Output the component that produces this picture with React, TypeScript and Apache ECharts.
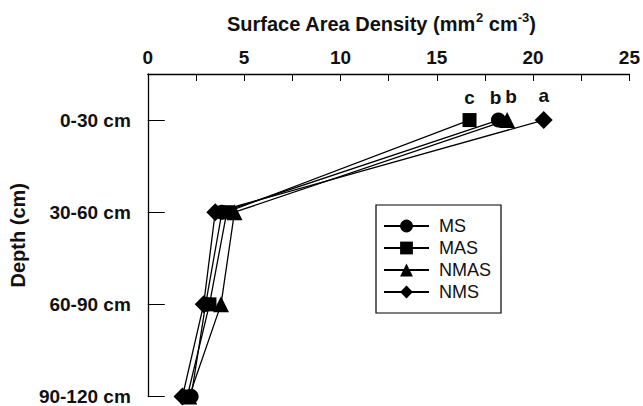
import React, { useEffect, useRef } from "react";
import * as echarts from "echarts";

const categories = ["0-30 cm", "30-60 cm", "60-90 cm", "90-120 cm"];
const seriesNames = ["MS", "MAS", "NMAS", "NMS"];
const msValues = [18.2, 3.85, 3.0, 2.25];
const masValues = [16.7, 4.1, 3.2, 2.05];
const nmasValues = [18.65, 4.5, 3.8, 2.15];
const nmsValues = [20.55, 3.5, 2.9, 1.8];
const topLetters = ["b", "c", "b", "a"];
const xTicks = [0, 5, 10, 15, 20, 25];

const FONT = "Liberation Sans, Arial, Helvetica, sans-serif";

export default function App() {
  const ref = useRef<HTMLDivElement>(null);
  useEffect(() => {
    if (!ref.current) return;
    const chart = echarts.init(ref.current, undefined, { renderer: "svg" });
    const allValues = [msValues, masValues, nmasValues, nmsValues];
    const symbols = ["circle", "rect", "triangle", "diamond"];
    const sizes = [15, 14, 16, 18];
    const labelOffsets = [[-3, 0], [0, 0], [4, 0], [0, 0]];
    const series = seriesNames.map((name, si) => ({
      name,
      type: "line",
      symbol: symbols[si],
      symbolSize: sizes[si],
      itemStyle: { color: "#000" },
      lineStyle: { color: "#000", width: 1.3 },
      data: allValues[si].map((v, i) => ({
        value: [v, i],
        label:
          i === 0
            ? {
                show: true,
                formatter: topLetters[si],
                position: "top",
                distance: 6,
                offset: labelOffsets[si],
                color: "#111",
                fontSize: 19,
                fontWeight: "bold",
                fontFamily: FONT,
              }
            : { show: false },
      })),
    }));
    chart.setOption({
      animation: false,
      backgroundColor: "#fff",
      title: {
        text: "{a|Surface Area Density (mm}{s|2}{a| cm}{s|-3}{a|)}",
        left: 222,
        top: 6,
        textStyle: {
          rich: {
            a: { fontSize: 20, fontWeight: "bold", fontFamily: FONT, color: "#111", lineHeight: 26 },
            s: { fontSize: 13, fontWeight: "bold", fontFamily: FONT, color: "#111", verticalAlign: "top", lineHeight: 15 },
          },
        },
      },
      legend: {
        orient: "vertical",
        left: 376,
        top: 205,
        padding: [12, 10, 12, 7],
        itemGap: 4,
        itemWidth: 45,
        itemHeight: 16,
        borderColor: "#000",
        borderWidth: 1.2,
        data: seriesNames,
        textStyle: { fontSize: 18, lineHeight: 18, color: "#111", fontFamily: FONT, padding: [0, 0, 0, 5] },
      },
      grid: { left: 145, right: 10, top: 74, bottom: 8, containLabel: false },
      xAxis: {
        type: "value",
        position: "top",
        min: 0,
        max: 25,
        interval: 2.5,
        splitLine: { show: false },
        axisLine: { show: true, onZero: false, lineStyle: { color: "#000", width: 1.3 } },
        axisTick: { show: true, inside: true, length: 7, lineStyle: { color: "#000" } },
        axisLabel: {
          color: "#111",
          fontSize: 19,
          fontWeight: "bold",
          fontFamily: FONT,
          margin: 7,
          formatter: (v: number) => (xTicks.includes(v) ? String(v) : ""),
        },
      },
      yAxis: {
        type: "value",
        inverse: true,
        min: -0.5,
        max: 3,
        splitLine: { show: false },
        name: "Depth (cm)",
        nameLocation: "middle",
        nameRotate: 90,
        nameGap: 117,
        nameTextStyle: { fontSize: 20, fontWeight: "bold", fontFamily: FONT, color: "#111" },
        axisLine: { show: true, onZero: false, lineStyle: { color: "#000", width: 1.3 } },
        axisTick: {
          show: true,
          inside: true,
          length: 17,
          customValues: [0, 1, 2, 3],
          lineStyle: { color: "#000" },
        },
        axisLabel: {
          customValues: [0, 1, 2, 3],
          color: "#111",
          fontSize: 19,
          fontWeight: "bold",
          fontFamily: FONT,
          margin: 17,
          formatter: (v: number) => categories[Math.round(v)] ?? "",
        },
      },
      series,
    });
    return () => chart.dispose();
  }, []);
  return <div ref={ref} style={{ width: 643, height: 406, position: "absolute", left: 0, top: 0 }} />;
}
